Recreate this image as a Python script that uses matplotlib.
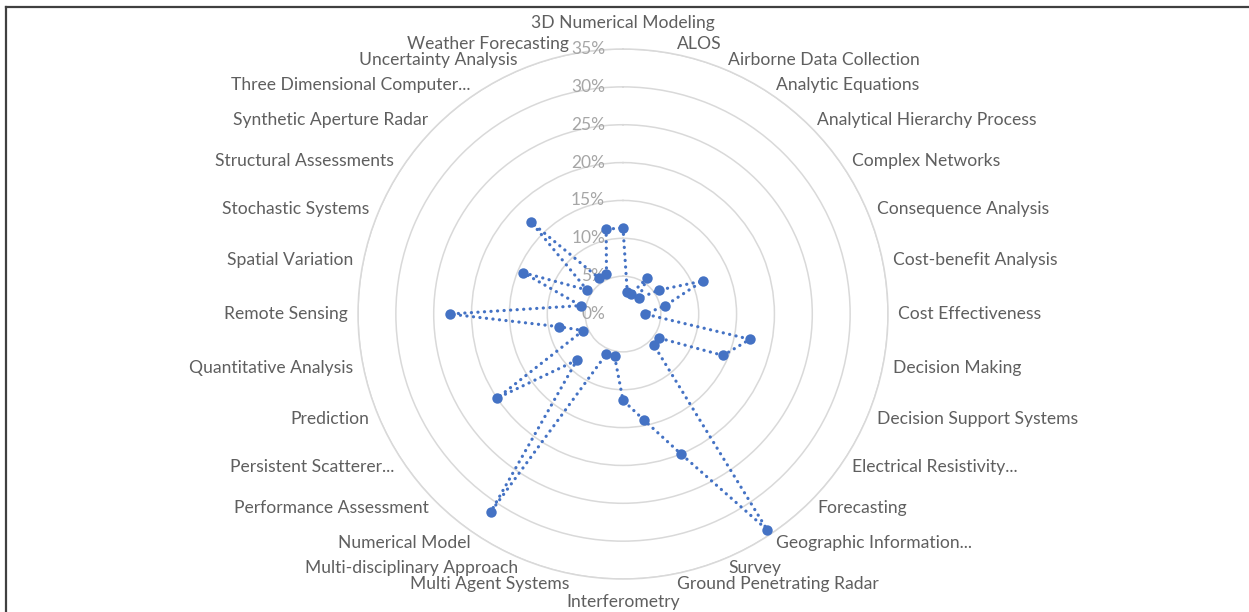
import matplotlib
matplotlib.use("Agg")
import matplotlib.pyplot as plt
import matplotlib.transforms as mtransforms
from matplotlib.lines import Line2D
import numpy as np

# categories, clockwise from the top
categories = ["3D Numerical Modeling", "ALOS", "Airborne Data Collection", "Analytic Equations",
              "Analytical Hierarchy Process", "Complex Networks", "Consequence Analysis",
              "Cost-benefit Analysis", "Cost Effectiveness", "Decision Making",
              "Decision Support Systems", "Electrical Resistivity...", "Forecasting",
              "Geographic Information...", "Survey", "Ground Penetrating Radar", "Interferometry",
              "Multi Agent Systems", "Multi-disciplinary Approach", "Numerical Model",
              "Performance Assessment", "Persistent Scatterer...", "Prediction",
              "Quantitative Analysis", "Remote Sensing", "Spatial Variation", "Stochastic Systems",
              "Structural Assessments", "Synthetic Aperture Radar", "Three Dimensional Computer...",
              "Uncertainty Analysis", "Weather Forecasting"]

# share of studies (%)
values = [11.4, 2.9, 2.9, 5.7, 2.9, 5.7, 11.4, 5.7, 2.9, 17.1, 14.3, 5.7, 5.7, 34.3, 20.0, 14.3,
          11.4, 5.7, 5.7, 31.4, 8.6, 20.0, 5.7, 8.6, 22.9, 5.7, 14.3, 5.7, 17.1, 5.7, 5.7, 11.4]

ring_ticks = [0, 5, 10, 15, 20, 25, 30, 35]
ring_labels = ["0%", "5%", "10%", "15%", "20%", "25%", "30%", "35%"]

FONT = "Lato"
LABEL_COLOR = "#5f5f5f"
TICK_COLOR = "#a6a6a6"
GRID_COLOR = "#d9d9d9"
LINE_COLOR = "#4472C4"

fig = plt.figure(figsize=(12.49, 6.12), dpi=100)
ax = fig.add_axes([0.2866, 0.0539, 0.4244, 0.866], projection="polar")
ax.set_theta_zero_location("N")
ax.set_theta_direction(-1)
ax.set_ylim(0, 35)

n = len(categories)
angles = np.arange(n) * 2 * np.pi / n

# rings
ax.set_yticks(ring_ticks[1:])
ax.set_yticklabels([])
ax.yaxis.grid(True, color=GRID_COLOR, lw=1.1)
ax.xaxis.grid(False)
ax.set_xticks([])
ax.spines["polar"].set_color(GRID_COLOR)
ax.spines["polar"].set_linewidth(1.1)

# ring value labels, left of the vertical axis
tr = mtransforms.offset_copy(ax.transData, fig=fig, x=-18, y=0, units="dots")
for r, lab in zip(ring_ticks, ring_labels):
    ax.text(0, r, lab, transform=tr, ha="right", va="center", fontsize=12.5,
            color=TICK_COLOR, family=FONT)

# series (round-dot line)
a_closed = np.append(angles, angles[0])
v_closed = np.append(values, values[0])
ax.plot(a_closed, v_closed, color=LINE_COLOR, lw=2.3, linestyle=(0, (0.05, 2.0)),
        dash_capstyle="round", clip_on=False, zorder=3)
ax.plot(angles, values, linestyle="none", color=LINE_COLOR, marker="o", markersize=7.5,
        markeredgewidth=0, clip_on=False, zorder=4)

# category labels outside the outer ring
for ang, lab in zip(angles, categories):
    s, c = np.sin(ang), np.cos(ang)
    if abs(s) < 0.01:
        ha = "center"
        va = "bottom" if c > 0 else "top"
        gap = 18 if c > 0 else 15
    else:
        ha = "left" if s > 0 else "right"
        va = "center"
        gap = 10
    t = mtransforms.offset_copy(ax.transData, fig=fig, x=gap * s, y=gap * c, units="dots")
    ax.text(ang, 35, lab, transform=t, ha=ha, va=va, fontsize=12.6,
            color=LABEL_COLOR, family=FONT)

# frame lines (top and left)
fig.add_artist(Line2D([6 / 1249, 1], [1 - 7 / 612, 1 - 7 / 612], transform=fig.transFigure,
                      color="#404040", lw=1.6))
fig.add_artist(Line2D([6 / 1249, 6 / 1249], [0, 1 - 7 / 612], transform=fig.transFigure,
                      color="#404040", lw=1.6))

fig.savefig("out.png", dpi=100)
